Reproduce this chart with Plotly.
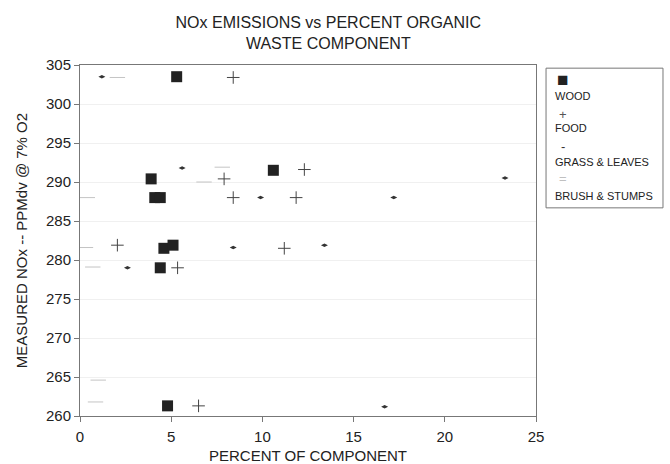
import plotly.graph_objects as go

# ---- data ----
wood_x = [5.3, 3.9, 4.1, 4.4, 4.6, 5.1, 4.4, 10.6, 4.8]
wood_y = [303.5, 290.4, 288.0, 288.0, 281.5, 281.9, 279.0, 291.5, 261.3]

food_x = [8.4, 7.9, 12.3, 8.4, 11.85, 2.05, 11.2, 5.35, 6.5]
food_y = [303.4, 290.4, 291.6, 288.0, 288.0, 281.9, 281.5, 279.0, 261.3]

grass_x = [1.2, 5.6, 9.9, 17.2, 23.3, 13.4, 8.4, 2.6, 16.7]
grass_y = [303.5, 291.8, 288.0, 288.0, 290.5, 281.9, 281.6, 279.0, 261.2]

brush_x = [6.8, 7.8, 0.4, 0.3, 0.7, 2.05, 1.0, 0.85]
brush_y = [290.0, 291.9, 288.0, 281.6, 279.1, 303.4, 264.6, 261.8]

x_ticks = [0, 5, 10, 15, 20, 25]
y_ticks = [260, 265, 270, 275, 280, 285, 290, 295, 300, 305]

legend_names = ["WOOD", "FOOD", "GRASS & LEAVES", "BRUSH & STUMPS"]

FONT = "Liberation Sans, Arial, Helvetica, sans-serif"
TXT = "#222222"

fig = go.Figure()
fig.add_trace(go.Scatter(x=brush_x, y=brush_y, mode="markers", name=legend_names[3],
                         marker=dict(symbol="line-ew", size=11, line=dict(width=1, color="#c4c4c4"))))
fig.add_trace(go.Scatter(x=grass_x, y=grass_y, mode="markers", name=legend_names[2],
                         marker=dict(symbol="diamond-wide", size=5, color="#333333", line=dict(width=0))))
fig.add_trace(go.Scatter(x=food_x, y=food_y, mode="markers", name=legend_names[1],
                         marker=dict(symbol="cross-thin", size=9, line=dict(width=1, color="#444444"))))
fig.add_trace(go.Scatter(x=wood_x, y=wood_y, mode="markers", name=legend_names[0],
                         marker=dict(symbol="square", size=11, color="#222222", line=dict(width=0))))

axis_common = dict(showline=True, linecolor="#777777", linewidth=1, mirror=True,
                   ticks="outside", ticklen=5, tickcolor="#777777", automargin=False,
                   tickfont=dict(family=FONT, size=15, color=TXT), zeroline=False)

fig.update_xaxes(range=[0, 25], tickvals=x_ticks, showgrid=False, ticklabelstandoff=2,
                 title=dict(text="PERCENT OF COMPONENT", font=dict(family=FONT, size=15, color=TXT), standoff=6),
                 **axis_common)
fig.update_yaxes(range=[260, 305], tickvals=y_ticks, showgrid=True, gridcolor="#f0f0f0",
                 title=dict(text="MEASURED NOx -- PPMdv @ 7% O2", font=dict(family=FONT, size=15, color=TXT), standoff=14),
                 **axis_common)

# custom legend (marker above label, as in the reference)
shapes = [dict(type="rect", xref="paper", yref="paper", x0=1.022, x1=1.2785, y0=0.593, y1=0.991,
               line=dict(color="#777777", width=1), fillcolor="white")]
annotations = []
glyphs = [("■", 19, "#222222", 0.960), ("+", 13, "#555555", 0.860),
          ("-", 13, "#333333", 0.769), ("=", 13, "#c0c0c0", 0.678)]
label_y = [0.912, 0.8205, 0.7236, 0.627]
for (g, s, c, gy), name, ly in zip(glyphs, legend_names, label_y):
    annotations.append(dict(xref="paper", yref="paper", x=1.059, y=gy, text=g, showarrow=False,
                            xanchor="center", yanchor="middle", font=dict(family=FONT, size=s, color=c)))
    annotations.append(dict(xref="paper", yref="paper", x=1.037, y=ly, text=name, showarrow=False,
                            xanchor="left", yanchor="middle", font=dict(family=FONT, size=11, color=TXT)))

fig.update_layout(
    width=670, height=464,
    margin=dict(l=80, r=134, t=65, b=48),
    paper_bgcolor="white", plot_bgcolor="white",
    title=dict(text="NOx EMISSIONS vs PERCENT ORGANIC<br>WASTE COMPONENT",
               font=dict(family=FONT, size=16, color=TXT), x=0.49, xanchor="center",
               yref="container", y=0.94, yanchor="middle"),
    showlegend=False,
    shapes=shapes, annotations=annotations,
)

fig.write_html("out.html")
